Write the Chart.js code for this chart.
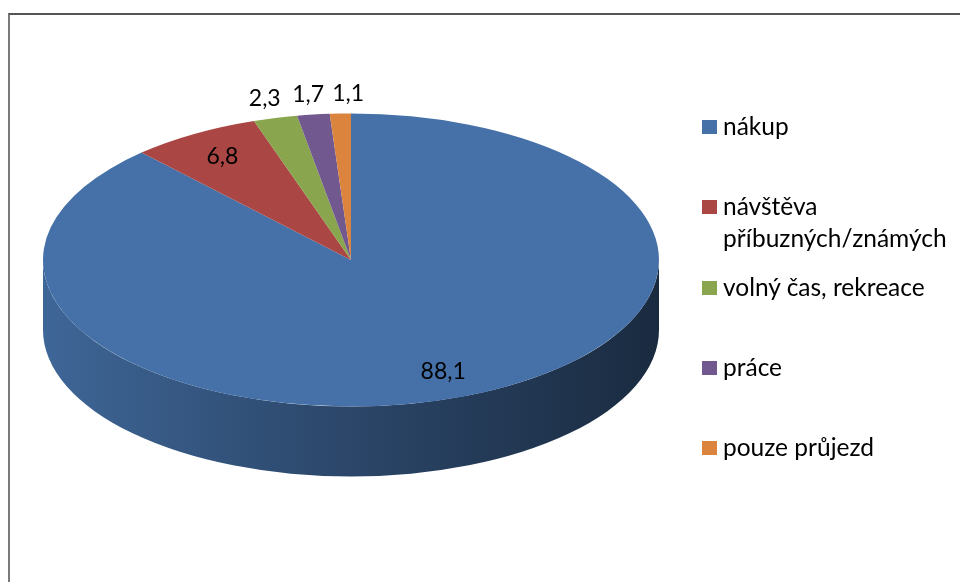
<!DOCTYPE html>
<html>
<head>
<meta charset="utf-8">
<script src="https://cdn.jsdelivr.net/npm/chart.js@4/dist/chart.umd.min.js"></script>
<style>
  html, body { margin: 0; padding: 0; background: #fff; }
  #wrap { position: relative; width: 960px; height: 582px; overflow: hidden; font-family: Lato, sans-serif; }
  #frame { position: absolute; left: 8px; top: 13px; width: 1000px; height: 600px; border-top: 2px solid #555; border-left: 2px solid #7a7a7a; box-sizing: border-box; }
  canvas { position: absolute; left: 0; top: 0; }
  #legend { position: absolute; left: 702px; top: 110px; width: 254px; }
  .item { position: relative; height: 80.3px; padding-left: 21px; font-size: 24.5px; line-height: 32px; color: #000; }
  .item .box { position: absolute; left: 0; top: 10px; width: 15px; height: 14px; }
</style>
</head>
<body>
<div id="wrap">
  <div id="frame"></div>
  <canvas id="chart" width="960" height="582"></canvas>
  <div id="legend"></div>
</div>
<script>
const labels = ["nákup", "návštěva příbuzných/známých", "volný čas, rekreace", "práce", "pouze průjezd"];
const values = [88.1, 6.8, 2.3, 1.7, 1.1];
const valueLabels = ["88,1", "6,8", "2,3", "1,7", "1,1"];
const colors = ["#4571a8", "#aa4643", "#89a54e", "#71588f", "#db843d"];

// shape of the tilted pie
const cx = 351, cy = 260, rx = 308, ry = 146.5, depth = 70;

function shade(hex, f) {
  const n = parseInt(hex.slice(1), 16);
  const r = Math.round(((n >> 16) & 255) * f);
  const g = Math.round(((n >> 8) & 255) * f);
  const b = Math.round((n & 255) * f);
  return `rgb(${r}, ${g}, ${b})`;
}

const tiltPlugin = {
  id: "tilt",
  beforeDatasetsDraw(chart) {
    const ctx = chart.ctx;
    const arcs = chart.getDatasetMeta(0).data;
    // side walls of the front half
    arcs.forEach((arc, i) => {
      const { startAngle, endAngle } = arc.getProps(["startAngle", "endAngle"], true);
      for (let k = -1; k <= 1; k++) {
        const a = Math.max(startAngle, 2 * Math.PI * k);
        const b = Math.min(endAngle, 2 * Math.PI * k + Math.PI);
        if (a >= b) continue;
        const grad = ctx.createLinearGradient(cx - rx, 0, cx + rx, 0);
        grad.addColorStop(0, shade(colors[i], 0.9));
        grad.addColorStop(0.45, shade(colors[i], 0.65));
        grad.addColorStop(1, shade(colors[i], 0.38));
        ctx.save();
        ctx.beginPath();
        ctx.ellipse(cx, cy, rx, ry, 0, a, b);
        ctx.ellipse(cx, cy + depth, rx, ry, 0, b, a, true);
        ctx.closePath();
        ctx.fillStyle = grad;
        ctx.fill();
        ctx.restore();
      }
    });
    ctx.save();
    ctx.translate(cx, cy);
    ctx.scale(1, ry / rx);
    ctx.translate(-cx, -cy);
  },
  afterDatasetsDraw(chart) {
    const ctx = chart.ctx;
    ctx.restore();
    const arcs = chart.getDatasetMeta(0).data;
    ctx.save();
    ctx.font = "23px Lato";
    ctx.fillStyle = "#000";
    ctx.textAlign = "center";
    ctx.textBaseline = "middle";
    let lastOutside = null;
    arcs.forEach((arc, i) => {
      const { startAngle, endAngle } = arc.getProps(["startAngle", "endAngle"], true);
      const mid = (startAngle + endAngle) / 2;
      const outside = values[i] < 5;
      const f = outside ? 1.14 : 0.82;
      let x = cx + f * rx * Math.cos(mid);
      const y = cy + f * ry * Math.sin(mid);
      if (outside) {
        // push crowded outside labels apart
        if (lastOutside !== null && x - lastOutside < 40) x = lastOutside + 40;
        lastOutside = x;
      }
      ctx.fillText(valueLabels[i], x, y);
    });
    ctx.restore();
  }
};

function draw() {
  new Chart(document.getElementById("chart"), {
    type: "pie",
    data: {
      labels,
      datasets: [{
        data: values,
        backgroundColor: colors,
        borderWidth: 0,
        clip: false
      }]
    },
    options: {
      responsive: false,
      animation: false,
      radius: rx,
      layout: { padding: { left: 43, right: 301, top: 100, bottom: 162 } },
      plugins: { legend: { display: false }, tooltip: { enabled: false } },
      events: []
    },
    plugins: [tiltPlugin]
  });

  const legend = document.getElementById("legend");
  labels.forEach((label, i) => {
    const item = document.createElement("div");
    item.className = "item";
    item.innerHTML = `<span class="box" style="background:${colors[i]}"></span>${label}`;
    legend.appendChild(item);
  });
}

document.fonts.load("23px Lato").then(draw, draw);
</script>
</body>
</html>
